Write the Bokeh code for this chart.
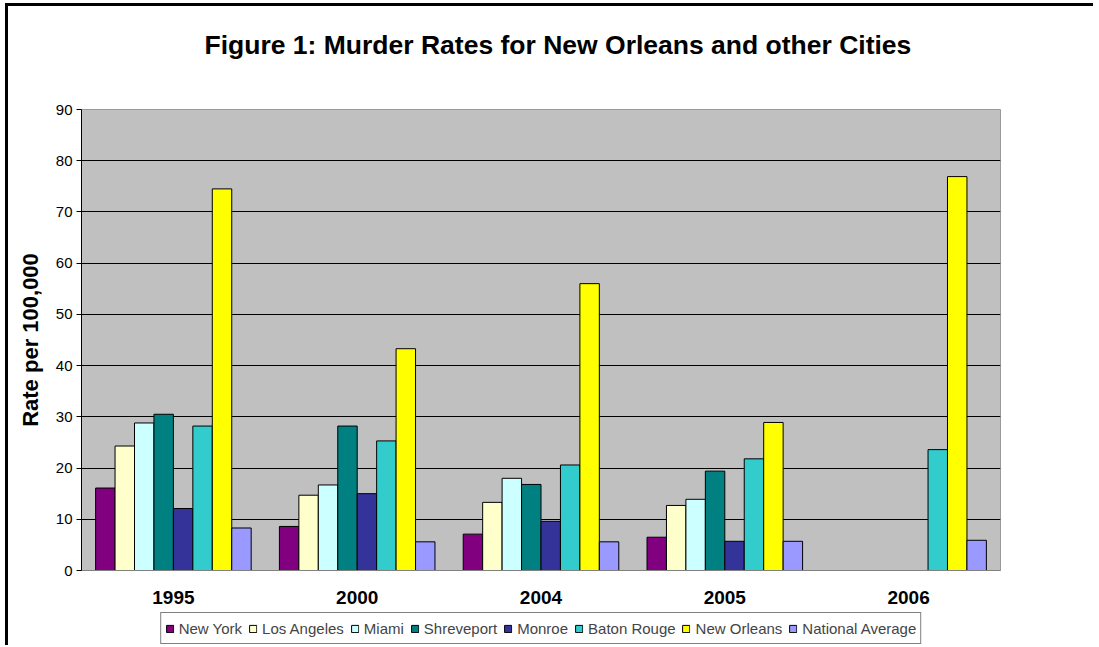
import numpy as np
from bokeh.plotting import figure
from bokeh.layouts import column
from bokeh.models import (ColumnDataSource, FactorRange, FixedTicker, Legend,
                          LegendItem, Range1d)
from bokeh.transform import dodge
from bokeh.embed import file_html
from bokeh.resources import INLINE

years = ["1995", "2000", "2004", "2005", "2006"]
nan = float("nan")
new_york = [16.1, 8.6, 7.1, 6.5, nan]
los_angeles = [24.3, 14.7, 13.3, 12.7, nan]
miami = [28.8, 16.7, 18.0, 13.9, nan]
shreveport = [30.5, 28.2, 16.8, 19.4, nan]
monroe = [12.1, 15.0, 9.6, 5.7, nan]
baton_rouge = [28.2, 25.3, 20.6, 21.8, 23.6]
new_orleans = [74.5, 43.3, 56.0, 28.9, 76.9]
national_avg = [8.3, 5.6, 5.6, 5.7, 5.9]

series_names = ["New York", "Los Angeles", "Miami", "Shreveport", "Monroe",
                "Baton Rouge", "New Orleans", "National Average"]
series_vals = [new_york, los_angeles, miami, shreveport, monroe,
               baton_rouge, new_orleans, national_avg]
colors = ["#800080", "#FFFFCC", "#CCFFFF", "#008080", "#333399",
          "#33CCCC", "#FFFF00", "#9999FF"]

FONT = "Liberation Sans"
W = 1085


def strip(height, right=0):
    f = figure(width=W, height=height, output_backend="svg",
               toolbar_location=None, x_axis_type=None, y_axis_type=None,
               x_range=Range1d(0, 1), y_range=Range1d(0, 1),
               min_border_left=0, min_border_right=right, min_border_top=0,
               min_border_bottom=0)
    f.outline_line_color = None
    f.xgrid.grid_line_color = None
    f.ygrid.grid_line_color = None
    f.background_fill_color = "white"
    f.border_fill_color = "white"
    return f


# title strip
t = strip(90)
t.title.text = "Figure 1: Murder Rates for New Orleans and other Cities"
t.title.text_font = FONT
t.title.text_font_size = "26.5px"
t.title.text_font_style = "bold"
t.title.text_color = "black"
t.title.align = "left"
t.title.offset = 123
t.title.vertical_align = "bottom"
t.title.standoff = 42

# main chart
data = {"year": years}
keys = []
for i, v in enumerate(series_vals):
    k = "s%d" % i
    keys.append(k)
    data[k] = v
src = ColumnDataSource(data)

p = figure(width=W, height=516, x_range=FactorRange(*years, range_padding=0),
           y_range=(0, 90), output_backend="svg", toolbar_location=None,
           min_border_left=73, min_border_right=93, min_border_top=13,
           min_border_bottom=42)
p.background_fill_color = "#C0C0C0"
p.border_fill_color = "white"
p.outline_line_color = "#9A9A9A"
p.outline_line_width = 1

bw = 0.1058
for i, k in enumerate(keys):
    off = (i - 3.5) * bw
    p.vbar(x=dodge("year", off, range=p.x_range), top=k, width=bw,
           source=src, fill_color=colors[i], line_color="black", line_width=1)

p.yaxis.ticker = FixedTicker(ticks=list(range(0, 91, 10)))
p.yaxis.axis_label = "Rate per 100,000"
p.yaxis.axis_label_text_font = FONT
p.yaxis.axis_label_text_font_size = "22px"
p.yaxis.axis_label_text_font_style = "bold"
p.yaxis.axis_label_text_color = "black"
p.yaxis.axis_label_standoff = 10
p.yaxis.major_label_text_font = FONT
p.yaxis.major_label_text_font_size = "15px"
p.yaxis.major_label_text_color = "black"
p.yaxis.major_label_standoff = 4
p.yaxis.axis_line_color = "black"
p.yaxis.major_tick_line_color = "black"
p.yaxis.major_tick_out = 5
p.yaxis.major_tick_in = 0
p.yaxis.minor_tick_line_color = None

p.xaxis.axis_line_color = "#808080"
p.xaxis.major_tick_line_color = None
p.xaxis.major_tick_out = 0
p.xaxis.major_tick_in = 0
p.xaxis.major_label_text_font = FONT
p.xaxis.major_label_text_font_size = "19px"
p.xaxis.major_label_text_font_style = "bold"
p.xaxis.major_label_text_color = "black"
p.xaxis.major_label_standoff = 20

p.xgrid.grid_line_color = None
p.ygrid.ticker = FixedTicker(ticks=list(range(10, 81, 10)))
p.ygrid.grid_line_color = "black"
p.ygrid.grid_line_width = 1

# legend strip
q = strip(33, right=20)
dummy = ColumnDataSource({"x": [-10], "top": [-10]})
items = []
for n, c in zip(series_names, colors):
    r = q.vbar(x="x", top="top", width=1, source=dummy, fill_color=c,
               line_color="black", line_width=1)
    items.append(LegendItem(label=n, renderers=[r]))
legend = Legend(items=items, orientation="horizontal", location="top_center",
                glyph_width=9, glyph_height=9, label_standoff=5, spacing=6,
                padding=4, margin=0, border_line_color="black",
                border_line_width=1, background_fill_color="white",
                background_fill_alpha=1, label_text_font=FONT,
                label_text_font_size="15px", label_height=22)
q.add_layout(legend, "center")

layout = column(t, p, q, spacing=0)
layout.styles = {"border-left": "3px solid black", "border-top": "3px solid black",
                 "margin-left": "5px", "margin-top": "3px"}

open("out.html", "w").write(file_html(layout, INLINE))
